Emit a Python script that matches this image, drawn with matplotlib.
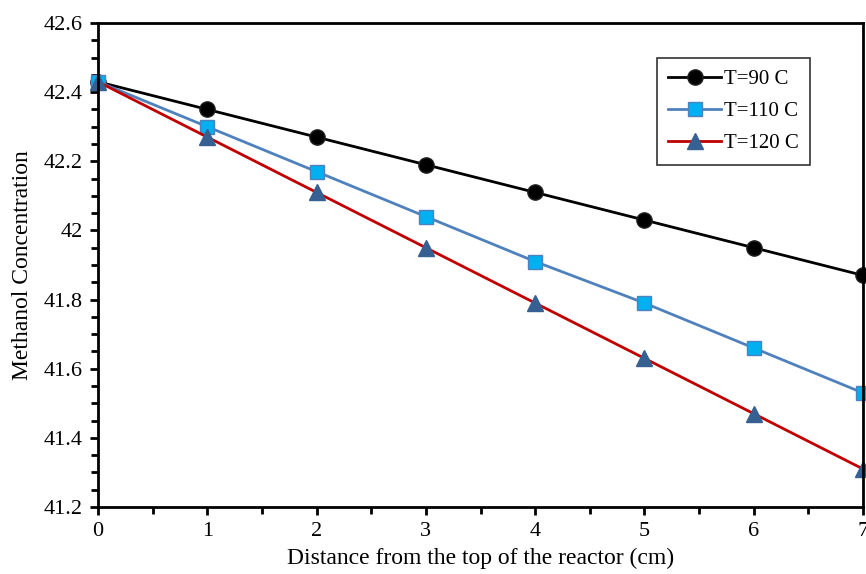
import matplotlib.pyplot as plt
from matplotlib.ticker import MultipleLocator

plt.rcParams['font.family'] = ['Liberation Serif', 'DejaVu Serif']

distance = [0, 1, 2, 3, 4, 5, 6, 7]
conc_90 = [42.43, 42.35, 42.27, 42.19, 42.11, 42.03, 41.95, 41.87]
conc_110 = [42.43, 42.30, 42.17, 42.04, 41.91, 41.79, 41.66, 41.53]
conc_120 = [42.43, 42.27, 42.11, 41.95, 41.79, 41.63, 41.47, 41.31]
y_ticks = [41.2, 41.4, 41.6, 41.8, 42.0, 42.2, 42.4, 42.6]
y_tick_labels = ['41.2', '41.4', '41.6', '41.8', '42', '42.2', '42.4', '42.6']

fig = plt.figure(figsize=(8.66, 5.74), dpi=100)
ax = fig.add_axes([98 / 866, 1 - 507 / 574, 765 / 866, 484 / 574])

ax.plot(distance, conc_90, color='black', lw=2, marker='o', ms=11,
        mfc='black', mec='#222222', label='T=90 C', clip_on=False)
ax.plot(distance, conc_110, color='#4F81BD', lw=2, marker='s', ms=10,
        mfc='#00B0F0', mec='#4F81BD', label='T=110 C', clip_on=False)
ax.plot(distance, conc_120, color='#C00000', lw=2, marker='^', ms=11,
        mfc='#376092', mec='#376092', label='T=120 C', clip_on=False)

ax.set_xlim(0, 7)
ax.set_ylim(41.2, 42.6)
ax.xaxis.set_major_locator(MultipleLocator(1))
ax.xaxis.set_minor_locator(MultipleLocator(0.5))
ax.set_yticks(y_ticks)
ax.set_yticklabels(y_tick_labels)
ax.yaxis.set_minor_locator(MultipleLocator(0.05))

ax.tick_params(which='both', direction='out', width=2, labelsize=16)
ax.tick_params(which='major', length=6, pad=5)
ax.tick_params(which='minor', length=5)
for s in ax.spines.values():
    s.set_linewidth(2)

ax.set_xlabel('Distance from the top of the reactor (cm)', fontsize=17)
ax.xaxis.set_label_coords(0.5, -0.085)
ax.set_ylabel('Methanol Concentration', fontsize=17)
ax.yaxis.set_label_coords(-0.085, 0.5)

leg = ax.legend(loc='upper left', bbox_to_anchor=((657 - 98) / 765, 1 - (58 - 23) / 484),
                borderaxespad=0, fontsize=15, frameon=True, fancybox=False,
                edgecolor='black', borderpad=0.55, handlelength=2.5,
                labelspacing=0.6, handletextpad=0.15)
leg.get_frame().set_linewidth(1.2)

fig.savefig('out.png', dpi=100)
